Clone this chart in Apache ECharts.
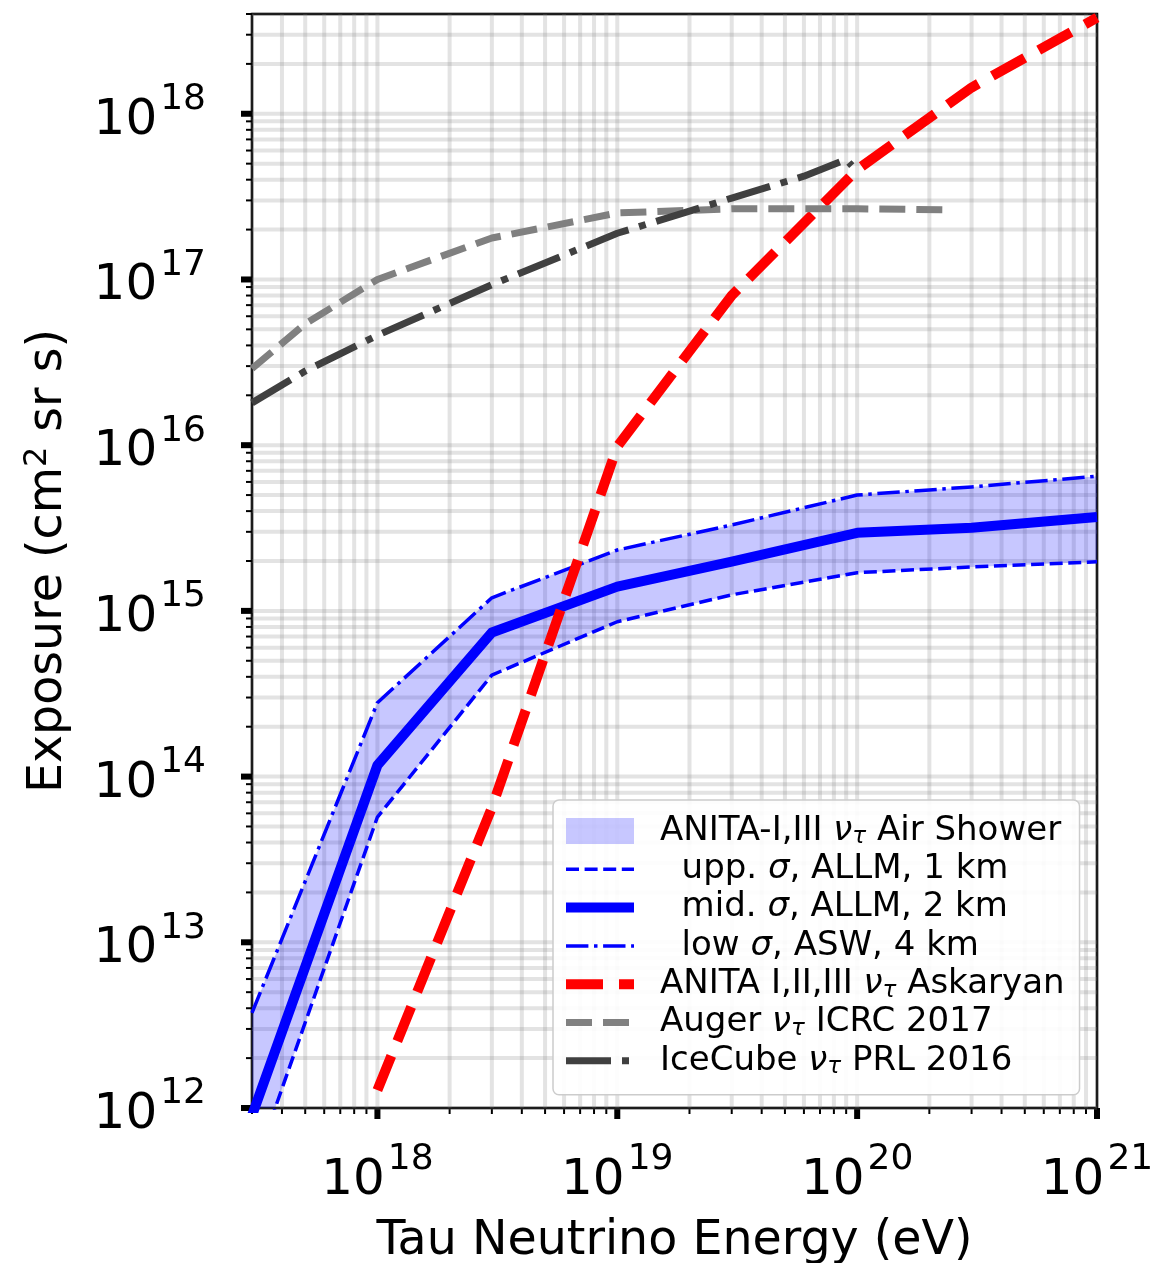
<!DOCTYPE html>
<html><head><meta charset="utf-8">
<script src="https://cdn.jsdelivr.net/npm/echarts@6/dist/echarts.min.js"></script>
<style>html,body{margin:0;padding:0;background:#fff}#chart{width:1176px;height:1263px}</style>
</head><body><div id="chart"></div>
<script>
// ---------------- data ----------------
const energy = [3e17, 1e18, 3e18, 1e19, 3e19, 1e20, 3e20, 1e21];
const midSigma = [9e11, 1.17e14, 7.4e14, 1.4e15, 1.98e15, 2.96e15, 3.17e15, 3.69e15];   // mid σ, ALLM, 2 km
const uppSigma = [4e11, 5.7e13, 4.1e14, 8.6e14, 1.25e15, 1.7e15, 1.84e15, 1.98e15];     // upp. σ, ALLM, 1 km (lower curve)
const lowSigma = [3.75e12, 2.79e14, 1.2e15, 2.33e15, 3.3e15, 5.0e15, 5.6e15, 6.5e15];   // low σ, ASW, 4 km (upper curve)
const askaryanEnergy = [1e18, 3e18, 1e19, 3e19, 1e20, 3e20, 1e21];
const askaryanExposure = [1.28e12, 6.5e13, 9.8e15, 8.0e16, 4.6e17, 1.44e18, 3.8e18];
const augerEnergy = [3e17, 5e17, 1e18, 3e18, 1e19, 3e19, 1e20, 2.4e20];
const augerExposure = [2.9e16, 5.4e16, 1.0e17, 1.78e17, 2.52e17, 2.67e17, 2.67e17, 2.63e17];
const icecubeEnergy = [3e17, 5e17, 1e18, 3e18, 1e19, 3e19, 6e19, 9e19, 9.5e19];
const icecubeExposure = [1.8e16, 2.8e16, 4.6e16, 9.3e16, 1.9e17, 3.1e17, 4.2e17, 5.3e17, 4.86e17];

const xMajorTicks = [1e18, 1e19, 1e20, 1e21];
const xMinorTicks = [3e17, 4e17, 5e17, 6e17, 7e17, 8e17, 9e17,
  2e18, 3e18, 4e18, 5e18, 6e18, 7e18, 8e18, 9e18,
  2e19, 3e19, 4e19, 5e19, 6e19, 7e19, 8e19, 9e19,
  2e20, 3e20, 4e20, 5e20, 6e20, 7e20, 8e20, 9e20];
const yMajorTicks = [1e12, 1e13, 1e14, 1e15, 1e16, 1e17, 1e18];
const yMinorTicks = [2e12, 3e12, 4e12, 5e12, 6e12, 7e12, 8e12, 9e12,
  2e13, 3e13, 4e13, 5e13, 6e13, 7e13, 8e13, 9e13,
  2e14, 3e14, 4e14, 5e14, 6e14, 7e14, 8e14, 9e14,
  2e15, 3e15, 4e15, 5e15, 6e15, 7e15, 8e15, 9e15,
  2e16, 3e16, 4e16, 5e16, 6e16, 7e16, 8e16, 9e16,
  2e17, 3e17, 4e17, 5e17, 6e17, 7e17, 8e17, 9e17,
  2e18, 3e18, 4e18];

const names = {
  band: 'ANITA-I,III ντ Air Shower',
  upp: 'upp. σ, ALLM, 1 km',
  mid: 'mid. σ, ALLM, 2 km',
  low: 'low σ, ASW, 4 km',
  ask: 'ANITA I,II,III ντ Askaryan',
  auger: 'Auger ντ ICRC 2017',
  ice: 'IceCube ντ PRL 2016'
};

// ---------------- styles ----------------
const FONT = 'DejaVu Sans';
const GRID_COLOR = 'rgba(128,128,128,0.22)';
const BAND_COLOR = 'rgba(0,0,255,0.22)';
const styles = {
  upp:   { color: '#0000ff', width: 3.5, type: [13, 5.6] },
  mid:   { color: '#0000ff', width: 10, type: 'solid' },
  low:   { color: '#0000ff', width: 3.5, type: [22.4, 5.6, 3.5, 5.6] },
  ask:   { color: '#ff0000', width: 10, type: [37, 16] },
  auger: { color: '#808080', width: 7, type: [26, 11] },
  ice:   { color: '#404040', width: 7, type: [45, 11, 7, 11] }
};

// ---------------- helpers ----------------
const isPow10 = v => Math.abs(Math.log10(v) - Math.round(Math.log10(v))) < 1e-6;
const pairs = (xs, ys) => xs.map((x, i) => [x, ys[i]]);

function clipPoly(pts, r) {
  const x0 = r.x, x1 = r.x + r.width, y0 = r.y, y1 = r.y + r.height;
  const lerp = (a, b, t) => [a[0] + (b[0] - a[0]) * t, a[1] + (b[1] - a[1]) * t];
  const planes = [
    { ins: p => p[0] >= x0, t: (a, b) => (x0 - a[0]) / (b[0] - a[0]) },
    { ins: p => p[0] <= x1, t: (a, b) => (x1 - a[0]) / (b[0] - a[0]) },
    { ins: p => p[1] >= y0, t: (a, b) => (y0 - a[1]) / (b[1] - a[1]) },
    { ins: p => p[1] <= y1, t: (a, b) => (y1 - a[1]) / (b[1] - a[1]) }
  ];
  let out = pts;
  for (const pl of planes) {
    const inp = out; out = [];
    for (let i = 0; i < inp.length; i++) {
      const cur = inp[i], prev = inp[(i + inp.length - 1) % inp.length];
      const ci = pl.ins(cur), pi = pl.ins(prev);
      if (ci) { if (!pi) out.push(lerp(prev, cur, pl.t(prev, cur))); out.push(cur); }
      else if (pi) out.push(lerp(prev, cur, pl.t(prev, cur)));
    }
  }
  return out;
}

function tickSeries(axis, values, major) {
  const len = major ? 11 : 6, w = major ? 6 : 2;
  return {
    type: 'custom', coordinateSystem: 'cartesian2d', silent: true, z: 1,
    data: values.map(v => axis === 'x' ? [v, 1e15] : [1e19, v]),
    encode: { x: 0, y: 1 },
    renderItem: (params, api) => {
      const cs = params.coordSys;
      const p = api.coord([api.value(0), api.value(1)]);
      const ch = [];
      if (axis === 'x') {
        const x = p[0];
        ch.push({ type: 'line', shape: { x1: x, y1: cs.y, x2: x, y2: cs.y + cs.height }, style: { stroke: GRID_COLOR, lineWidth: 4 } });
        ch.push({ type: 'line', shape: { x1: x, y1: cs.y + cs.height, x2: x, y2: cs.y + cs.height + len }, style: { stroke: '#000', lineWidth: w } });
      } else {
        const y = p[1];
        ch.push({ type: 'line', shape: { x1: cs.x, y1: y, x2: cs.x + cs.width, y2: y }, style: { stroke: GRID_COLOR, lineWidth: 4 } });
        ch.push({ type: 'line', shape: { x1: cs.x - len, y1: y, x2: cs.x, y2: y }, style: { stroke: '#000', lineWidth: w } });
      }
      return { type: 'group', children: ch };
    }
  };
}

const labelRich = {
  b: { fontFamily: FONT, fontSize: 50, lineHeight: 64, verticalAlign: 'bottom', color: '#000' },
  s: { fontFamily: FONT, fontSize: 36, lineHeight: 32, verticalAlign: 'top', color: '#000', padding: [0, 0, 0, 3] }
};
const labelFmt = v => isPow10(v) ? '{b|10}{s|' + Math.round(Math.log10(v)) + '}' : '';

function lineSeries(key, xs, ys) {
  const st = styles[key];
  return {
    type: 'line', name: names[key], data: pairs(xs, ys), showSymbol: false, symbol: 'none',
    z: 3, clip: true, silent: true,
    lineStyle: { color: st.color, width: st.width, type: st.type, join: 'round', cap: 'butt' },
    itemStyle: { color: st.color }
  };
}
const legendLine = key => ({
  name: names[key],
  itemStyle: { color: 'rgba(0,0,0,0)', borderWidth: 0, opacity: 0 },
  lineStyle: { color: styles[key].color, width: styles[key].width, type: styles[key].type, cap: 'butt' }
});

const chart = echarts.init(document.getElementById('chart'), null, { renderer: 'canvas' });
chart.setOption({
  animation: false,
  backgroundColor: '#fff',
  textStyle: { fontFamily: FONT },
  grid: { left: 252, right: 79, top: 14, bottom: 155, containLabel: false, outerBoundsMode: 'none',
    show: true, borderColor: '#000', borderWidth: 2.5, backgroundColor: 'transparent' },
  xAxis: {
    type: 'log', logBase: 10, min: 3e17, max: 1e21, splitNumber: 4,
    axisLine: { show: false }, axisTick: { show: false }, splitLine: { show: false },
    axisLabel: { formatter: labelFmt, rich: labelRich, margin: 34 },
    name: 'Tau Neutrino Energy (eV)', nameLocation: 'middle', nameGap: 110,
    nameTextStyle: { fontFamily: FONT, fontSize: 47.5, color: '#000' }
  },
  yAxis: {
    type: 'log', logBase: 10, min: 1e12, max: 4e18, splitNumber: 7,
    axisLine: { show: false }, axisTick: { show: false }, splitLine: { show: false },
    axisLabel: { formatter: labelFmt, rich: labelRich, margin: 46 },
    name: 'Exposure (cm{sup|2} sr s)', nameLocation: 'middle', nameGap: 176,
    nameTextStyle: { fontFamily: FONT, fontSize: 47.5, color: '#000', lineHeight: 54,
      rich: { sup: { fontFamily: FONT, fontSize: 32, lineHeight: 32, verticalAlign: 'top', color: '#000' } } }
  },
  legend: {
    orient: 'vertical', left: 553, top: 800,
    padding: [13, 15, 16, 8], itemGap: 2.3, itemWidth: 68, itemHeight: 26,
    backgroundColor: 'rgba(255,255,255,0.9)', borderColor: '#cccccc', borderWidth: 1.5, borderRadius: 6,
    itemStyle: { color: 'rgba(0,0,0,0)', borderWidth: 0 },
    textStyle: {
      fontFamily: FONT, fontSize: 34, color: '#000', lineHeight: 36, padding: [0, 0, 0, 21],
      rich: {
        i: { fontFamily: FONT, fontSize: 34, lineHeight: 36, fontStyle: 'italic', color: '#000' },
        sub: { fontFamily: FONT, fontSize: 23, lineHeight: 18, verticalAlign: 'bottom', fontStyle: 'italic', color: '#000' }
      }
    },
    formatter: name => {
      let s = name.replace('ντ', '{i|ν}{sub|τ}').replace('σ', '{i|σ}');
      if (name === names.upp || name === names.mid || name === names.low) s = '  ' + s;
      return s;
    },
    data: [
      { name: names.band, icon: 'rect', itemStyle: { color: BAND_COLOR, opacity: 1 } },
      legendLine('upp'), legendLine('mid'), legendLine('low'),
      legendLine('ask'), legendLine('auger'), legendLine('ice')
    ]
  },
  series: [
    tickSeries('x', xMinorTicks, false),
    tickSeries('x', xMajorTicks, true),
    tickSeries('y', yMinorTicks, false),
    tickSeries('y', yMajorTicks, true),
    {
      type: 'custom', name: names.band, coordinateSystem: 'cartesian2d', silent: true, z: 2,
      data: [[energy[1], midSigma[1]]], encode: { x: 0, y: 1 },
      itemStyle: { color: BAND_COLOR },
      renderItem: (params, api) => {
        const cs = params.coordSys;
        const pts = [];
        energy.forEach((e, i) => pts.push(api.coord([e, lowSigma[i]])));
        for (let i = energy.length - 1; i >= 0; i--) pts.push(api.coord([energy[i], uppSigma[i]]));
        return { type: 'polygon', shape: { points: clipPoly(pts, cs) }, style: { fill: BAND_COLOR } };
      }
    },
    lineSeries('upp', energy, uppSigma),
    lineSeries('mid', energy, midSigma),
    lineSeries('low', energy, lowSigma),
    lineSeries('ask', askaryanEnergy, askaryanExposure),
    lineSeries('auger', augerEnergy, augerExposure),
    lineSeries('ice', icecubeEnergy, icecubeExposure)
  ]
});
</script>
</body></html>
